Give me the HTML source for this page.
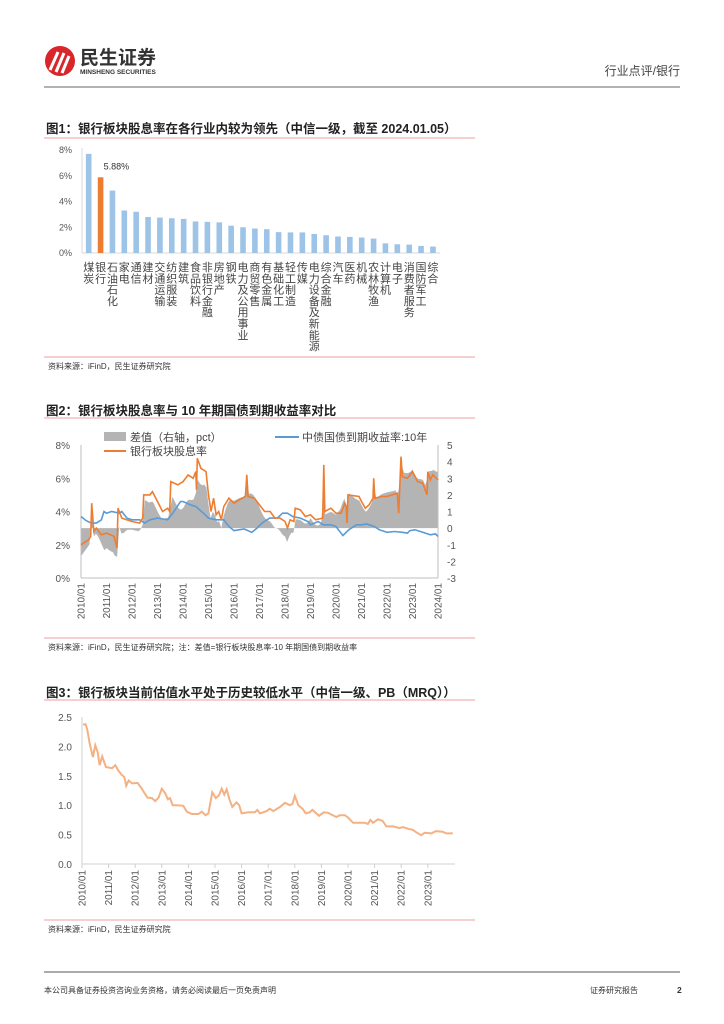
<!DOCTYPE html>
<html><head><meta charset="utf-8"><style>
body{margin:0;background:#fff;width:724px;height:1024px;overflow:hidden;font-family:"Liberation Sans","Noto Sans CJK SC",sans-serif;}
svg{position:absolute;left:0;top:0}
</style></head><body>
<svg width="724" height="1024" id="page" font-family="Liberation Sans, Noto Sans CJK SC, sans-serif">
<g>
  <circle cx="60" cy="61" r="15" fill="#d8262b"/>
  <path d="M50 70 L58 52 M56 72 L64 53 M62 73 L69 56" stroke="#fff" stroke-width="3" fill="none"/>
  <text x="80" y="64" font-size="19" font-weight="bold" fill="#333">民生证券</text>
  <text x="80" y="74" font-size="6.5" font-weight="bold" fill="#333">MINSHENG SECURITIES</text>
  <text x="680" y="75" font-size="12" fill="#444" text-anchor="end">行业点评/银行</text>
  <line x1="44" y1="87" x2="680" y2="87" stroke="#666" stroke-width="1"/>
</g>
<g>
  <text x="46" y="133" font-size="12.5" font-weight="bold" fill="#222">图1：银行板块股息率在各行业内较为领先（中信一级，截至 2024.01.05）</text>
  <line x1="44" y1="138" x2="475" y2="138" stroke="#e8a0a0"/>
  <line x1="44" y1="357" x2="475" y2="357" stroke="#e8a0a0"/>
  <text x="48" y="369" font-size="8" fill="#333">资料来源：iFinD，民生证券研究院</text>
</g>
<g id="c1"></g>
<g>
  <text x="46" y="415" font-size="12.5" font-weight="bold" fill="#222">图2：银行板块股息率与 10 年期国债到期收益率对比</text>
  <line x1="44" y1="418" x2="475" y2="418" stroke="#e8a0a0"/>
  <line x1="44" y1="638" x2="475" y2="638" stroke="#e8a0a0"/>
  <text x="48" y="650" font-size="8" fill="#333">资料来源：iFinD，民生证券研究院；注：差值=银行板块股息率-10 年期国债到期收益率</text>
</g>
<g id="c2"></g>
<g>
  <text x="46" y="697" font-size="12.5" font-weight="bold" fill="#222">图3：银行板块当前估值水平处于历史较低水平（中信一级、PB（MRQ））</text>
  <line x1="44" y1="700" x2="475" y2="700" stroke="#e8a0a0"/>
  <line x1="44" y1="920" x2="475" y2="920" stroke="#e8a0a0"/>
  <text x="48" y="932" font-size="8" fill="#333">资料来源：iFinD，民生证券研究院</text>
</g>
<g id="c3"></g>
<g>
  <line x1="44" y1="972" x2="680" y2="972" stroke="#555"/>
  <text x="44" y="993" font-size="8" fill="#333">本公司具备证券投资咨询业务资格，请务必阅读最后一页免责声明</text>
  <text x="590" y="993" font-size="8" fill="#333">证券研究报告</text>
  <text x="677" y="993" font-size="8.5" font-weight="bold" fill="#333">2</text>
</g>
</svg>
<script>
const NS="http://www.w3.org/2000/svg";
function mk(p,t,a,txt){const e=document.createElementNS(NS,t);for(const k in a)e.setAttribute(k,a[k]);if(txt!==undefined)e.textContent=txt;p.appendChild(e);return e;}
// ---- Chart 1 data ----
const industries=["煤炭","银行","石油石化","家电","通信","建材","交通运输","纺织服装","建筑","食品饮料","非银行金融","房地产","钢铁","电力及公用事业","商贸零售","有色金属","基础化工","轻工制造","传媒","电力设备及新能源","综合金融","汽车","医药","机械","农林牧渔","计算机","电子","消费者服务","国防军工","综合"];
const divYield=[7.7,5.88,4.85,3.3,3.2,2.8,2.75,2.7,2.65,2.45,2.42,2.38,2.12,2.0,1.9,1.85,1.62,1.6,1.6,1.48,1.38,1.28,1.25,1.2,1.12,0.75,0.68,0.65,0.55,0.5];
const c1Ticks=[0,2,4,6,8];
// ---- Chart 2 data ----
const divDates=[2010.0,2010.3,2010.38,2010.42,2010.5,2010.6,2010.8,2011.0,2011.3,2011.41,2011.45,2011.6,2012.0,2012.3,2012.42,2012.46,2012.7,2012.8,2013.0,2013.2,2013.4,2013.48,2013.52,2013.8,2014.0,2014.2,2014.4,2014.5,2014.53,2014.56,2014.7,2014.9,2015.0,2015.1,2015.2,2015.3,2015.4,2015.5,2015.6,2015.8,2016.0,2016.2,2016.45,2016.5,2016.55,2016.8,2017.0,2017.2,2017.42,2017.6,2017.8,2018.0,2018.1,2018.2,2018.35,2018.4,2018.6,2018.8,2019.0,2019.2,2019.48,2019.52,2019.56,2019.8,2020.0,2020.2,2020.35,2020.4,2020.43,2020.47,2020.9,2021.0,2021.15,2021.3,2021.45,2021.48,2021.52,2021.8,2022.0,2022.2,2022.4,2022.46,2022.55,2022.6,2022.8,2023.0,2023.2,2023.4,2023.57,2023.6,2023.7,2023.8,2024.0];
const divVals=[2.0,2.3,2.5,4.5,2.8,3.0,2.6,2.7,2.5,1.8,4.2,3.6,3.4,3.3,3.6,5.0,5.0,5.2,4.6,4.0,4.2,4.0,5.8,5.6,5.8,6.2,6.0,6.4,5.3,7.2,6.6,6.4,5.0,4.0,4.8,3.8,4.0,3.5,4.3,4.8,4.5,4.7,4.9,6.2,4.9,4.8,4.4,4.0,4.0,3.6,3.6,3.4,3.0,3.5,3.4,4.2,4.1,3.7,3.8,3.5,3.6,6.8,4.0,4.2,3.9,3.9,4.5,4.3,3.3,5.0,4.9,4.6,4.2,4.4,4.8,6.0,4.8,4.9,4.9,5.0,5.1,3.9,7.3,6.1,6.0,6.4,5.8,5.7,5.0,6.4,5.9,6.2,5.9];
const bondDates=[2010.0,2010.2,2010.4,2010.6,2010.8,2010.9,2011.0,2011.2,2011.5,2011.6,2011.8,2012.0,2012.3,2012.5,2012.7,2013.0,2013.4,2013.6,2013.9,2014.0,2014.3,2014.5,2014.8,2015.0,2015.3,2015.6,2015.8,2016.0,2016.4,2016.7,2016.9,2017.1,2017.4,2017.7,2017.9,2018.1,2018.3,2018.6,2018.9,2019.0,2019.3,2019.5,2019.8,2020.0,2020.27,2020.5,2020.8,2021.0,2021.2,2021.5,2021.7,2022.0,2022.3,2022.6,2022.8,2022.9,2023.1,2023.4,2023.7,2023.9,2024.0];
const bondVals=[3.7,3.45,3.3,3.3,3.5,4.0,3.9,4.0,3.9,4.0,3.6,3.5,3.5,3.3,3.5,3.6,3.5,3.9,4.6,4.6,4.4,4.3,3.9,3.6,3.5,3.5,3.1,2.85,2.95,2.75,3.0,3.3,3.6,3.6,3.9,3.9,3.7,3.6,3.4,3.2,3.4,3.2,3.2,3.1,2.55,2.9,3.2,3.2,3.25,3.1,2.9,2.75,2.8,2.75,2.7,2.85,2.9,2.75,2.6,2.65,2.5];
const c2LeftTicks=[0,2,4,6,8];
const c2RightTicks=[-3,-2,-1,0,1,2,3,4,5];
const c2Years=[2010,2011,2012,2013,2014,2015,2016,2017,2018,2019,2020,2021,2022,2023,2024];
// ---- Chart 3 data ----
const pbDates=[2010.04,2010.13,2010.19,2010.29,2010.41,2010.5,2010.59,2010.66,2010.76,2010.9,2011.13,2011.25,2011.35,2011.48,2011.59,2011.66,2011.75,2011.88,2012.09,2012.25,2012.46,2012.63,2012.75,2012.88,2013.0,2013.13,2013.23,2013.31,2013.41,2013.56,2013.81,2013.94,2014.13,2014.38,2014.5,2014.65,2014.75,2014.9,2015.03,2015.15,2015.25,2015.35,2015.44,2015.54,2015.65,2015.81,2015.91,2016.0,2016.25,2016.5,2016.59,2016.69,2016.94,2017.06,2017.19,2017.44,2017.63,2017.81,2017.91,2018.0,2018.13,2018.31,2018.41,2018.56,2018.66,2018.91,2019.09,2019.25,2019.38,2019.56,2019.69,2019.88,2020.0,2020.19,2020.44,2020.63,2020.75,2020.84,2020.94,2021.13,2021.31,2021.44,2021.69,2021.94,2022.06,2022.25,2022.44,2022.56,2022.75,2022.88,2023.13,2023.31,2023.56,2023.69,2023.94];
const pbVals=[2.37,2.38,2.3,2.05,1.82,2.02,1.9,1.68,1.83,1.65,1.63,1.68,1.6,1.52,1.48,1.33,1.42,1.37,1.38,1.28,1.13,1.12,1.07,1.13,1.28,1.2,1.1,1.12,1.0,1.0,0.99,0.89,0.85,0.85,0.89,0.83,0.86,1.22,1.12,1.17,1.28,1.18,1.27,1.1,0.97,1.05,1.0,0.86,0.88,0.88,0.92,0.86,0.9,0.94,0.9,0.97,1.04,1.0,1.02,1.16,1.0,0.93,0.86,0.88,0.92,0.82,0.88,0.87,0.84,0.8,0.83,0.83,0.79,0.7,0.7,0.7,0.68,0.75,0.7,0.76,0.73,0.64,0.64,0.61,0.63,0.6,0.58,0.54,0.49,0.53,0.52,0.56,0.55,0.52,0.52];
const c3Ticks=[0,0.5,1.0,1.5,2.0,2.5];
const c3Years=[2010,2011,2012,2013,2014,2015,2016,2017,2018,2019,2020,2021,2022,2023];

// ===== Chart 1 =====
(function(){
const g=document.getElementById('c1');
const y0=253,y1=150,x0=82,x1=440;
const ys=v=>y0-(v/8)*(y0-y1);
const step=11.87, xs=i=>88.7+i*step;
c1Ticks.forEach(t=>{const e=mk(g,'text',{x:72,y:ys(t)+3,'font-size':9,fill:'#555','text-anchor':'end'},t+'%');

});
mk(g,'line',{x1:x0,y1:y1-2,x2:x0,y2:y0,stroke:'#d9d9d9'});
mk(g,'line',{x1:x0,y1:y0,x2:x1,y2:y0,stroke:'#d9d9d9'});
divYield.forEach((v,i)=>{
 const b=mk(g,'rect',{x:xs(i)-2.8,y:ys(v),width:5.6,height:y0-ys(v),fill:i===1?'#ed7d31':'#9dc3e6'});
 
 
 const chars=[...industries[i]];
 chars.forEach((c,k)=>{const t=mk(g,'text',{x:xs(i),y:271+k*11.3,'font-size':11,fill:'#444','text-anchor':'middle'},c);
 
 });
});
const lab=mk(g,'text',{x:xs(1)+3,y:ys(divYield[1])-8,'font-size':9,fill:'#333'},divYield[1].toFixed(2)+'%');


})();

// ===== Chart 2 =====
(function(){
const g=document.getElementById('c2');
const x0=81,x1=438,yT=445,yB=578;
const xs=t=>x0+(t-2010)/14*(x1-x0);
const yl=v=>yB-(v/8)*(yB-yT);
const yr=v=>yB-((v+3)/8)*(yB-yT);
function interp(d,v,t){if(t<=d[0])return v[0];for(let i=1;i<d.length;i++){if(t<=d[i]){const f=(t-d[i-1])/(d[i]-d[i-1]);return v[i-1]+f*(v[i]-v[i-1]);}}return v[v.length-1];}
let p='M'+xs(2010)+' '+yr(0);
for(let m=0;m<=168;m++){const t=2010+m/12;const gp=interp(divDates,divVals,t)-interp(bondDates,bondVals,t);p+=' L'+xs(t).toFixed(1)+' '+yr(gp).toFixed(1);}
p+=' L'+xs(2024)+' '+yr(0)+' Z';
const a=mk(g,'path',{d:p,fill:'#b4b4b4'});


mk(g,'line',{x1:x0,y1:yT,x2:x0,y2:yB,stroke:'#bfbfbf'});
mk(g,'line',{x1:x1,y1:yT,x2:x1,y2:yB,stroke:'#bfbfbf'});
mk(g,'line',{x1:x0,y1:yB,x2:x1,y2:yB,stroke:'#bfbfbf'});
c2LeftTicks.forEach(t=>{const e=mk(g,'text',{x:70,y:yl(t)+4,'font-size':10,fill:'#555','text-anchor':'end'},t+'%');

});
c2RightTicks.forEach(t=>{const e=mk(g,'text',{x:447,y:yr(t)+4,'font-size':10,fill:'#555'},t);

});
c2Years.forEach(y=>{const x=xs(y);const e=mk(g,'text',{x:0,y:0,'font-size':10,fill:'#555','text-anchor':'end',transform:`translate(${x+3.5},${yB+5}) rotate(-90)`},y+'/01');

});
const line=(d,v,c,n)=>{const e=mk(g,'polyline',{points:d.map((t,i)=>xs(t).toFixed(1)+','+yl(v[i]).toFixed(1)).join(' '),fill:'none',stroke:c,'stroke-width':1.6});

};
line(bondDates,bondVals,'#5b9bd5','bond-yield-line');
line(divDates,divVals,'#ed7d31','dividend-yield-line');
const lg=mk(g,'g',{});


mk(lg,'rect',{x:104,y:432,width:22,height:9,fill:'#b4b4b4'});
mk(lg,'text',{x:130,y:441,'font-size':11,fill:'#444'},'差值（右轴，pct）');
mk(lg,'line',{x1:275,y1:437,x2:299,y2:437,stroke:'#5b9bd5','stroke-width':2});
mk(lg,'text',{x:302,y:441,'font-size':11,fill:'#444'},'中债国债到期收益率:10年');
mk(lg,'line',{x1:104,y1:451,x2:126,y2:451,stroke:'#ed7d31','stroke-width':2});
mk(lg,'text',{x:130,y:455,'font-size':11,fill:'#444'},'银行板块股息率');
})();

// ===== Chart 3 =====
(function(){
const g=document.getElementById('c3');
const x0=82,yT=717,yB=864,xEnd=455;
const xs=t=>x0+(t-2010)*26.6;
const ys=v=>yB-(v/2.5)*(yB-yT);
mk(g,'line',{x1:x0,y1:yT,x2:x0,y2:yB,stroke:'#d0d0d0'});
mk(g,'line',{x1:x0,y1:yB,x2:xEnd,y2:yB,stroke:'#d0d0d0'});
c3Ticks.forEach(t=>{const e=mk(g,'text',{x:72,y:ys(t)+4,'font-size':10,fill:'#555','text-anchor':'end'},t.toFixed(1));

});
c3Years.forEach(y=>{const x=xs(y);mk(g,'line',{x1:x,y1:yB,x2:x,y2:yB+4,stroke:'#d0d0d0'});
const e=mk(g,'text',{x:0,y:0,'font-size':10,fill:'#555','text-anchor':'end',transform:`translate(${x+3.5},${yB+6}) rotate(-90)`},y+'/01');

});
const e=mk(g,'polyline',{points:pbDates.map((t,i)=>xs(t).toFixed(1)+','+ys(pbVals[i]).toFixed(1)).join(' '),fill:'none',stroke:'#f4b183','stroke-width':2});


})();
</script>
</body></html>
